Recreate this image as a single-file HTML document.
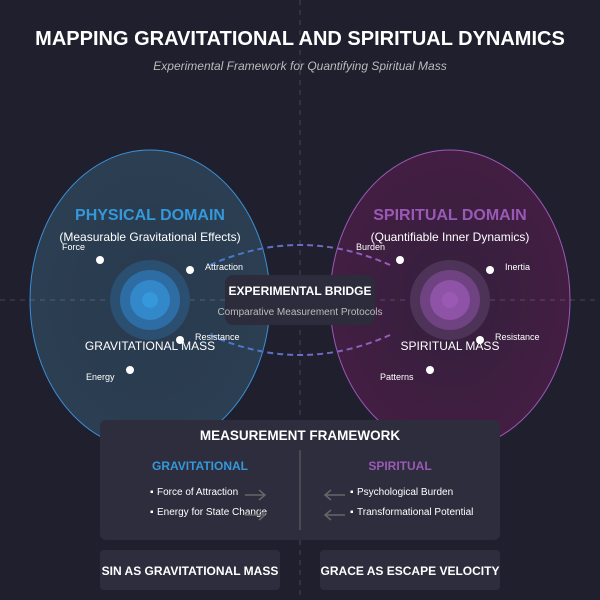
<!DOCTYPE html>
<html><head><meta charset="utf-8"><style>
html,body{margin:0;padding:0;background:#1f1f2e;}
svg{display:block;font-family:"Liberation Sans",sans-serif;}
</style></head><body>
<svg width="600" height="600" viewBox="0 0 600 600">
<defs>
<radialGradient id="gl" cx="50%" cy="50%" r="50%">
<stop offset="0" stop-color="#2a3a4e"/><stop offset="1" stop-color="#2b3e52"/></radialGradient>
<radialGradient id="gr" cx="50%" cy="50%" r="50%">
<stop offset="0" stop-color="#33203d"/><stop offset="1" stop-color="#431e42"/></radialGradient>
<linearGradient id="dg" x1="0" x2="1"><stop offset="0" stop-color="#3b7fd0"/><stop offset="1" stop-color="#9b59b6"/></linearGradient>
</defs>
<rect width="600" height="600" fill="#1f1f2e"/>
<text x="300" y="45" text-anchor="middle" fill="#fff" font-size="20" font-weight="bold">MAPPING GRAVITATIONAL AND SPIRITUAL DYNAMICS</text>
<text x="300" y="70" text-anchor="middle" fill="#bbb" font-size="12" font-style="italic">Experimental Framework for Quantifying Spiritual Mass</text>

<ellipse cx="150" cy="300" rx="120" ry="150" fill="url(#gl)" stroke="#3a8fd6" stroke-width="1"/>
<ellipse cx="450" cy="300" rx="120" ry="150" fill="url(#gr)" stroke="#9b59b6" stroke-width="1"/>

<line x1="300" y1="0" x2="300" y2="600" stroke="rgba(255,255,255,0.12)" stroke-width="1.5" stroke-dasharray="5,5"/>
<line x1="0" y1="300" x2="600" y2="300" stroke="rgba(255,255,255,0.12)" stroke-width="1.5" stroke-dasharray="5,5"/>

<text x="150" y="220" text-anchor="middle" fill="#3498db" font-size="16" font-weight="bold">PHYSICAL DOMAIN</text>
<text x="150" y="241" text-anchor="middle" fill="#fff" font-size="12">(Measurable Gravitational Effects)</text>
<text x="450" y="220" text-anchor="middle" fill="#9b59b6" font-size="16" font-weight="bold">SPIRITUAL DOMAIN</text>
<text x="450" y="241" text-anchor="middle" fill="#fff" font-size="12">(Quantifiable Inner Dynamics)</text>

<circle cx="150" cy="300" r="40" fill="#2b4f70"/>
<circle cx="150" cy="300" r="30" fill="#2e6da3"/>
<circle cx="150" cy="300" r="20" fill="#3288c9"/>
<circle cx="150" cy="300" r="8" fill="#3598db"/>
<circle cx="450" cy="300" r="40" fill="#4e3358"/>
<circle cx="450" cy="300" r="30" fill="#6f4281"/>
<circle cx="450" cy="300" r="20" fill="#8e52a6"/>
<circle cx="450" cy="300" r="8" fill="#9b59b6"/>

<path d="M210,265 Q300,225 390,265" fill="none" stroke="url(#dg)" stroke-width="2" stroke-dasharray="6,4"/>
<path d="M210,335 Q300,375 390,335" fill="none" stroke="url(#dg)" stroke-width="2" stroke-dasharray="6,4"/>

<g fill="#fff">
<circle cx="100" cy="260" r="4"/><circle cx="190" cy="270" r="4"/><circle cx="180" cy="340" r="4"/><circle cx="130" cy="370" r="4"/>
<circle cx="400" cy="260" r="4"/><circle cx="490" cy="270" r="4"/><circle cx="480" cy="340" r="4"/><circle cx="430" cy="370" r="4"/>
</g>
<g fill="#fff" font-size="9">
<text x="62" y="250">Force</text><text x="205" y="270">Attraction</text><text x="195" y="340">Resistance</text><text x="86" y="380">Energy</text>
<text x="356" y="250">Burden</text><text x="505" y="270">Inertia</text><text x="495" y="340">Resistance</text><text x="380" y="380">Patterns</text>
</g>
<text x="150" y="350" text-anchor="middle" fill="#fff" font-size="12">GRAVITATIONAL MASS</text>
<text x="450" y="350" text-anchor="middle" fill="#fff" font-size="12">SPIRITUAL MASS</text>

<rect x="225" y="275" width="150" height="50" rx="8" fill="#2c2c3c"/>
<text x="300" y="295" text-anchor="middle" fill="#fff" font-size="12" font-weight="bold">EXPERIMENTAL BRIDGE</text>
<text x="300" y="315" text-anchor="middle" fill="#bbb" font-size="10">Comparative Measurement Protocols</text>

<rect x="100" y="420" width="400" height="120" rx="6" fill="#2d2d3e"/>
<text x="300" y="440" text-anchor="middle" fill="#fff" font-size="13.5" font-weight="bold">MEASUREMENT FRAMEWORK</text>
<line x1="300" y1="450" x2="300" y2="530" stroke="#555" stroke-width="1.5"/>
<text x="200" y="470" text-anchor="middle" fill="#3498db" font-size="12" font-weight="bold">GRAVITATIONAL</text>
<text x="400" y="470" text-anchor="middle" fill="#9b59b6" font-size="12" font-weight="bold">SPIRITUAL</text>
<g fill="#fff" font-size="10">
<text x="150" y="495">▪</text><text x="157" y="495">Force of Attraction</text>
<text x="150" y="515">▪</text><text x="157" y="515">Energy for State Change</text>
<text x="350" y="495">▪</text><text x="357" y="495">Psychological Burden</text>
<text x="350" y="515">▪</text><text x="357" y="515">Transformational Potential</text>
</g>
<g stroke="#666" stroke-width="1.5" fill="none">
<path d="M245,495 H265 M259,490 L265,495 L259,500"/>
<path d="M245,515 H265 M259,510 L265,515 L259,520"/>
<path d="M345,495 H325 M331,490 L325,495 L331,500"/>
<path d="M345,515 H325 M331,510 L325,515 L331,520"/>
</g>

<rect x="100" y="550" width="180" height="40" rx="4" fill="#2d2d3e"/>
<rect x="320" y="550" width="180" height="40" rx="4" fill="#2d2d3e"/>
<text x="190" y="575" text-anchor="middle" fill="#fff" font-size="12" font-weight="bold">SIN AS GRAVITATIONAL MASS</text>
<text x="410" y="575" text-anchor="middle" fill="#fff" font-size="12" font-weight="bold">GRACE AS ESCAPE VELOCITY</text>
</svg>
</body></html>
